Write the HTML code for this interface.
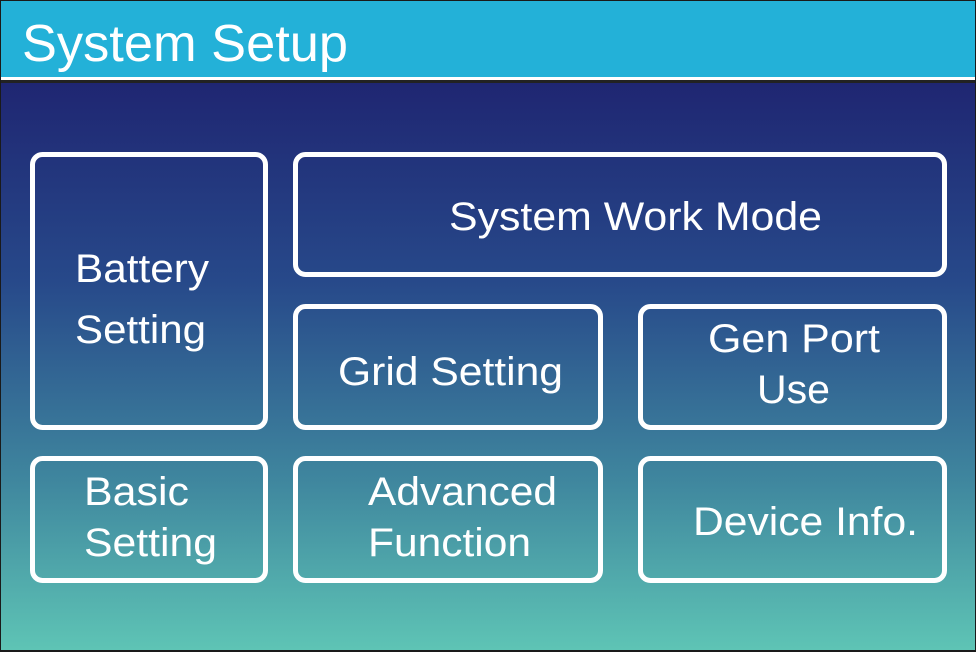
<!DOCTYPE html>
<html><head><meta charset="utf-8"><style>
html,body{margin:0;padding:0;width:976px;height:652px;overflow:hidden;background:#fff}
svg{display:block}
text{font-family:"Liberation Sans",Arial,sans-serif;fill:#fff}
</style></head><body>
<svg width="976" height="652" viewBox="0 0 976 652" xmlns="http://www.w3.org/2000/svg">
<defs>
<linearGradient id="g" x1="0" y1="0" x2="0" y2="1">
<stop offset="0" stop-color="#1f2672"/>
<stop offset="0.35" stop-color="#27498a"/>
<stop offset="0.7" stop-color="#3f869e"/>
<stop offset="1" stop-color="#5ec4b5"/>
</linearGradient>
</defs>
<rect x="0" y="0" width="976" height="652" fill="#1a1a1a"/>
<rect x="1" y="1" width="974" height="76" fill="#23b1d8"/>
<rect x="1" y="77" width="974" height="3" fill="#ffffff"/>
<rect x="1" y="80" width="974" height="3" fill="#222"/>
<rect x="1" y="83" width="974" height="567" fill="url(#g)"/>
<text x="22" y="61" font-size="52" textLength="326" lengthAdjust="spacingAndGlyphs">System Setup</text>
<g fill="none" stroke="#fff" stroke-width="5">
<rect x="32.5" y="154.5" width="233" height="273" rx="10"/>
<rect x="295.5" y="154.5" width="649" height="120" rx="10"/>
<rect x="295.5" y="306.5" width="305" height="121" rx="10"/>
<rect x="640.5" y="306.5" width="304" height="121" rx="10"/>
<rect x="32.5" y="458.5" width="233" height="122" rx="10"/>
<rect x="295.5" y="458.5" width="305" height="122" rx="10"/>
<rect x="640.5" y="458.5" width="304" height="122" rx="10"/>
</g>
<g font-size="40" lengthAdjust="spacingAndGlyphs">
<text x="449" y="230" textLength="373" lengthAdjust="spacingAndGlyphs">System Work Mode</text>
<text x="75" y="282" textLength="134" lengthAdjust="spacingAndGlyphs">Battery</text>
<text x="75" y="343" textLength="131" lengthAdjust="spacingAndGlyphs">Setting</text>
<text x="338" y="385" textLength="225" lengthAdjust="spacingAndGlyphs">Grid Setting</text>
<text x="708" y="352" textLength="172" lengthAdjust="spacingAndGlyphs">Gen Port</text>
<text x="757" y="403" textLength="73" lengthAdjust="spacingAndGlyphs">Use</text>
<text x="84" y="505" textLength="105" lengthAdjust="spacingAndGlyphs">Basic</text>
<text x="84" y="556" textLength="133" lengthAdjust="spacingAndGlyphs">Setting</text>
<text x="368" y="505" textLength="189" lengthAdjust="spacingAndGlyphs">Advanced</text>
<text x="368" y="556" textLength="163" lengthAdjust="spacingAndGlyphs">Function</text>
<text x="693" y="535" textLength="225" lengthAdjust="spacingAndGlyphs">Device Info.</text>
</g>
</svg>
</body></html>
